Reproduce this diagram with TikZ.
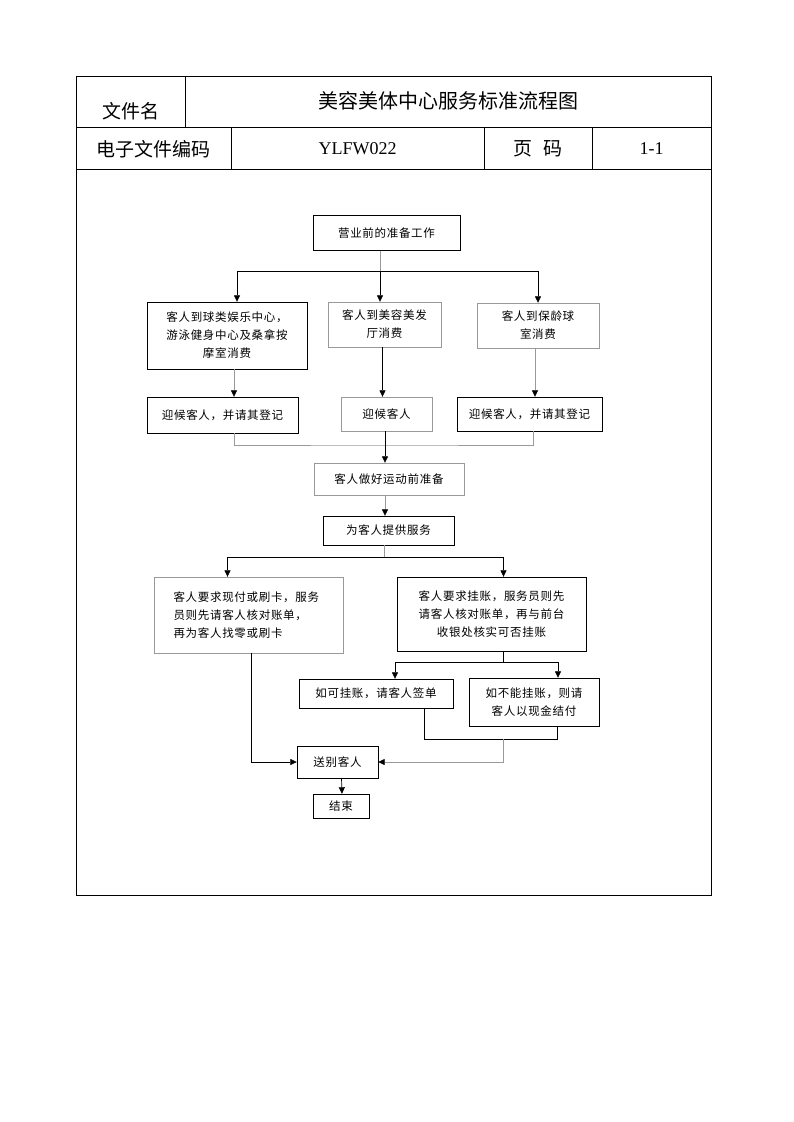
\documentclass[tikz,border=0pt]{standalone}
\usepackage{fontspec}
\setmainfont{Liberation Serif}
\newfontfamily\cjk{Noto Sans CJK SC}
\newfontfamily\cjkbox{Noto Sans CJK SC}[LetterSpace=6]
\usetikzlibrary{arrows.meta}

\begin{document}
\begin{tikzpicture}[x=1pt,y=-1pt,
  box/.style={draw, inner sep=0pt, align=center, font=\cjkbox\fontsize{11.5}{18}\selectfont},
  pale/.style={draw=black!40},
  link/.style={line width=0.7pt},
  palelink/.style={link, black!40},
  arr/.style={-{Triangle[length=6.5pt,width=6pt,color=black]}},
  head/.style={inner sep=0pt, font=\cjk\fontsize{19}{22}\selectfont}]
  \useasboundingbox (0,0) rectangle (793,1122);
  % form frame
  \draw[line width=0.8pt] (76,76) rectangle (711,895);
  \draw[line width=0.8pt] (76,127) -- (711,127) (76,169) -- (711,169);
  \draw[line width=0.8pt] (185,76) -- (185,127) (231,127) -- (231,169)
    (484,127) -- (484,169) (592,127) -- (592,169);
  \node[head] (fname) at (130.5,111) {文件名};
  \node[head, font=\cjk\fontsize{20}{22}\selectfont] (title) at (448,101) {美容美体中心服务标准流程图};
  \node[head] (fcode) at (153.5,149) {电子文件编码};
  \node[inner sep=0pt, font=\fontsize{18}{20}\selectfont] (code) at (357.5,149) {YLFW022};
  \node[head] (pglabel) at (538,149) {页\hspace{0.6em}码};
  \node[inner sep=0pt, font=\fontsize{18}{20}\selectfont] (pgnum) at (651.5,149) {1-1};

  % first level
  \node[box, minimum width=147pt, minimum height=35pt] (prep) at (386.5,233) {营业前的准备工作};
  \node[box, minimum width=160pt, minimum height=67pt] (ball) at (227,335.5)
    {客人到球类娱乐中心，\\游泳健身中心及桑拿按\\摩室消费};
  \node[box, pale, minimum width=113pt, minimum height=45pt] (salon) at (384.5,324.5)
    {客人到美容美发\\厅消费};
  \node[box, pale, minimum width=122pt, minimum height=45pt] (bowl) at (538,325.5)
    {客人到保龄球\\室消费};
  \node[box, minimum width=151pt, minimum height=36pt] (greetA) at (222.5,415) {迎候客人，并请其登记};
  \node[box, pale, minimum width=91pt, minimum height=34pt] (greetB) at (386.5,414) {迎候客人};
  \node[box, minimum width=145pt, minimum height=34pt] (greetC) at (529.5,414) {迎候客人，并请其登记};

  % service
  \node[box, pale, minimum width=150pt, minimum height=32pt] (ready) at (389,479) {客人做好运动前准备};
  \node[box, minimum width=131pt, minimum height=29pt] (serve) at (388.5,530.5) {为客人提供服务};
  \node[box, pale, minimum width=189pt, minimum height=76pt, text width=150pt, align=left] (cash) at (248.5,615)
    {客人要求现付或刷卡，服务\\员则先请客人核对账单，\\再为客人找零或刷卡};
  \node[box, minimum width=189pt, minimum height=74pt] (credit) at (491.5,614)
    {客人要求挂账，服务员则先\\请客人核对账单，再与前台\\收银处核实可否挂账};
  \node[box, minimum width=154pt, minimum height=29pt] (sign) at (376,693.5) {如可挂账，请客人签单};
  \node[box, minimum width=130pt, minimum height=48pt] (nocredit) at (534,702)
    {如不能挂账，则请\\客人以现金结付};
  \node[box, minimum width=81pt, minimum height=32pt] (bye) at (337.5,762) {送别客人};
  \node[box, minimum width=56pt, minimum height=24pt] (done) at (341,806) {结束};

  % connectors, top part
  \coordinate (fork1) at (380,271);
  \draw[palelink] (prep.south -| fork1) -- (fork1);
  \draw[link] ([xshift=10pt]ball.north |- fork1) -- (bowl.north |- fork1);
  \draw[link, arr] ([xshift=10pt]ball.north |- fork1) -- ([xshift=10pt]ball.north);
  \draw[link, arr] (fork1) -- (fork1 |- salon.north);
  \draw[link, arr] (bowl.north |- fork1) -- (bowl.north);
  \draw[palelink, arr] ([xshift=7pt]ball.south) -- ([xshift=7pt]ball.south |- greetA.north);
  \draw[link, arr] ([xshift=-2pt]salon.south) -- ([xshift=-2pt]salon.south |- greetB.north);
  \draw[palelink, arr] ([xshift=-3pt]bowl.south) -- ([xshift=-3pt]bowl.south |- greetC.north);

  % joining the three greetings
  \coordinate (join1) at (385,445);
  \draw[palelink] ([xshift=12pt]greetA.south) |- (join1) -| ([xshift=4pt]greetC.south);
  \draw[link, arr] (greetB.south -| join1) -- (join1 |- ready.north);
  \draw[palelink, arr] (ready.south -| join1) -- (join1 |- serve.north);

  % payment branch
  \coordinate (fork2) at (384,557);
  \draw[palelink] (serve.south -| fork2) -- (fork2);
  \draw[link] ([xshift=-21pt]cash.north |- fork2) -- ([xshift=12pt]credit.north |- fork2);
  \draw[link, arr] ([xshift=-21pt]cash.north |- fork2) -- ([xshift=-21pt]cash.north);
  \draw[link, arr] ([xshift=12pt]credit.north |- fork2) -- ([xshift=12pt]credit.north);
  \coordinate (fork3) at (503,662);
  \draw[link] (credit.south -| fork3) -- (fork3);
  \draw[link] ([xshift=19pt]sign.north |- fork3) -- ([xshift=24pt]nocredit.north |- fork3);
  \draw[link, arr] ([xshift=19pt]sign.north |- fork3) -- ([xshift=19pt]sign.north);
  \draw[link, arr] ([xshift=24pt]nocredit.north |- fork3) -- ([xshift=24pt]nocredit.north);

  % back to the guest
  \coordinate (join2) at (503,739);
  \draw[link] ([xshift=48pt]sign.south) |- (join2) -| ([xshift=23pt]nocredit.south);
  \draw[palelink, arr] (join2) |- (bye.east);
  \draw[link, arr] ([xshift=3pt]cash.south) |- (bye.west);
  \draw[link, arr] ([xshift=4pt]bye.south) -- ([xshift=1pt]done.north);
\end{tikzpicture}
\end{document}
